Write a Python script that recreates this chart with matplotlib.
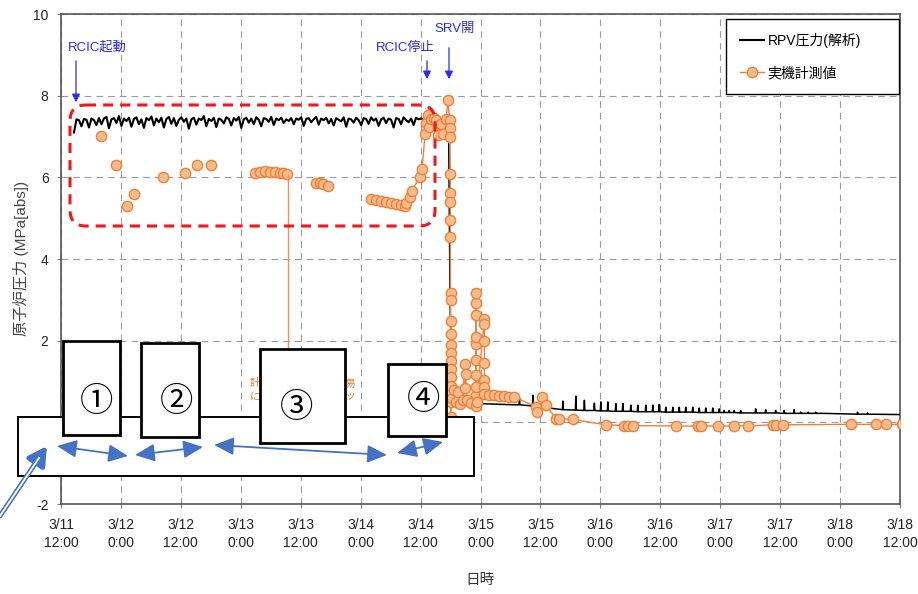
import numpy as np
import matplotlib
matplotlib.use('Agg')
import matplotlib.pyplot as plt
from matplotlib.patches import Rectangle, FancyBboxPatch, FancyArrowPatch
from matplotlib.transforms import Affine2D
from matplotlib.lines import Line2D

plt.rcParams['font.family'] = ['Liberation Sans', 'Noto Sans CJK JP', 'DejaVu Sans']
plt.rcParams['axes.unicode_minus'] = False

# ---------------- data (hours since 3/11 12:00, MPa[abs]) ----------------
tick_hours = [0, 12, 24, 36, 48, 60, 72, 84, 96, 108, 120, 132, 144, 156, 168]
tick_labels = ['3/11\n12:00', '3/12\n0:00', '3/12\n12:00', '3/13\n0:00', '3/13\n12:00',
               '3/14\n0:00', '3/14\n12:00', '3/15\n0:00', '3/15\n12:00', '3/16\n0:00',
               '3/16\n12:00', '3/17\n0:00', '3/17\n12:00', '3/18\n0:00', '3/18\n12:00']
y_ticks = [-2, 0, 2, 4, 6, 8, 10]

# analysis (RCIC period, sampled from 2.6 h to 72.1 h)
rcic_start, rcic_end = 2.6, 72.1
rcic_values = [
    7.10, 7.42, 7.40, 7.25, 7.43, 7.41, 7.22, 7.44, 7.40, 7.28,
    7.45, 7.30, 7.44, 7.48, 7.20, 7.42, 7.45, 7.33, 7.50, 7.26,
    7.44, 7.38, 7.46, 7.24, 7.43, 7.47, 7.30, 7.42, 7.21, 7.45,
    7.40, 7.49, 7.27, 7.44, 7.35, 7.46, 7.22, 7.43, 7.48, 7.31,
    7.45, 7.26, 7.41, 7.47, 7.36, 7.44, 7.19, 7.42, 7.46, 7.29,
    7.44, 7.40, 7.50, 7.25, 7.43, 7.38, 7.46, 7.23, 7.44, 7.41,
    7.32, 7.47, 7.43, 7.27, 7.45, 7.39, 7.48, 7.21, 7.42, 7.46,
    7.34, 7.44, 7.30, 7.47, 7.41, 7.25, 7.45, 7.43, 7.36, 7.48,
    7.28, 7.44, 7.40, 7.46, 7.33, 7.42, 7.38, 7.45, 7.30, 7.44,
    7.41, 7.47, 7.26, 7.43, 7.45, 7.35, 7.42, 7.48, 7.29, 7.44,
    7.40, 7.46, 7.32, 7.43, 7.27, 7.45, 7.41, 7.37, 7.47, 7.24,
    7.44, 7.42, 7.34, 7.46, 7.40, 7.28, 7.45, 7.43, 7.31, 7.47,
    7.39, 7.44, 7.26, 7.42, 7.46, 7.33, 7.44, 7.41, 7.22, 7.45,
    7.43, 7.30, 7.47, 7.40, 7.35, 7.44, 7.28, 7.46, 7.42, 7.44]

# analysis after RCIC stop
post_hours = [72.6, 74.0, 75.5, 77.6, 77.9, 78.2, 78.6, 79.2, 80.0, 81.5, 83.8, 90.4,
              91.7, 91.8, 91.9, 94.4, 94.5, 94.6, 95.4, 97.0, 97.1, 97.2,
              100.4, 100.5, 100.6, 103.0, 103.1, 103.2, 104.7, 104.8, 104.9,
              106.7, 106.8, 106.9, 108.0, 108.1, 108.2, 109.4, 109.5, 109.6, 110.4,
              111.0, 111.1, 111.2, 112.4, 112.5, 112.6, 114.0, 114.1, 114.2,
              115.4, 115.5, 115.6, 117.0, 117.1, 117.2, 118.4, 118.5, 118.6,
              119.7, 119.8, 119.9, 121.0, 121.1, 121.2, 122.4, 122.5, 122.6,
              123.7, 123.8, 123.9, 125.0, 125.1, 125.2, 126.4, 126.5, 126.6,
              127.7, 127.8, 127.9, 129.0, 129.1, 129.2, 130.4, 130.5, 130.6,
              131.7, 131.8, 131.9, 132.7, 132.8, 132.9, 133.7, 133.8, 133.9,
              134.7, 134.8, 134.9, 136.0, 136.1, 136.2, 139.0, 139.1, 139.2,
              141.0, 141.1, 141.2, 143.0, 143.1, 143.2, 144.7, 144.8, 144.9,
              146.7, 146.8, 146.9, 148.0, 148.1, 148.2, 149.5, 149.6, 149.7,
              151.0, 151.1, 151.2, 152.5, 159.4, 159.5, 159.6, 161.4, 161.5, 161.6, 168.0]
post_values = [7.42, 7.45, 7.43, 7.42, 3.00, 1.40, 0.90, 0.70, 0.58, 0.52, 0.46, 0.43,
               0.43, 0.60, 0.43, 0.40, 0.66, 0.40, 0.38, 0.36, 0.57, 0.36,
               0.31, 0.52, 0.31, 0.30, 0.64, 0.30, 0.29, 0.54, 0.29,
               0.29, 0.47, 0.29, 0.28, 0.50, 0.28, 0.28, 0.50, 0.28, 0.27,
               0.27, 0.46, 0.27, 0.27, 0.46, 0.27, 0.27, 0.42, 0.27,
               0.26, 0.42, 0.26, 0.26, 0.42, 0.26, 0.26, 0.42, 0.26,
               0.26, 0.44, 0.26, 0.25, 0.37, 0.25, 0.25, 0.37, 0.25,
               0.25, 0.37, 0.25, 0.25, 0.37, 0.25, 0.25, 0.37, 0.25,
               0.24, 0.35, 0.24, 0.24, 0.35, 0.24, 0.24, 0.35, 0.24,
               0.24, 0.33, 0.24, 0.24, 0.29, 0.24, 0.24, 0.29, 0.24,
               0.24, 0.29, 0.24, 0.23, 0.29, 0.23, 0.23, 0.33, 0.23,
               0.23, 0.31, 0.23, 0.23, 0.29, 0.23, 0.22, 0.29, 0.22,
               0.22, 0.31, 0.22, 0.22, 0.25, 0.22, 0.22, 0.25, 0.22,
               0.22, 0.25, 0.22, 0.22, 0.20, 0.25, 0.20, 0.20, 0.23, 0.20, 0.19]

# measured plant data (NaN = gap in record)
nan = np.nan
meas_hours = [8.0, nan, 11.1, nan, 13.3, nan, 14.7, nan, 20.5, nan, 24.8, nan, 27.3, nan, 30.1, nan,
              38.8, 39.8, 40.8, 41.8, 42.8, 43.8, 44.5, 45.3, nan,
              51.1, 51.8, 52.5, 53.5, nan,
              62.1, 63.1, 64.1, 65.1, 66.1, 67.1, 68.1, 68.8, 69.1, 69.8, 70.3, 71.8, 72.3,
              72.9, 73.0, 73.5, 73.7, 74.1, 74.6, 75.1, 75.5, 76.0, 76.5, 77.1, 77.5, 77.8,
              77.85, 77.9, 77.95, 77.95, 77.95, 77.95, 77.95,
              78.0, 78.0, 78.0, 78.0, 78.0, 78.0, 78.0, 78.0, 78.0, 78.0, 78.0, 78.0, 78.0,
              78.3, 78.6, 79.0, 79.4, 79.8, 80.5, 80.8, 80.9, 81.0, 81.3, 82.1,
              83.0, 83.1, 83.1, 83.1, 83.1, 83.1, 83.1, 83.1, 83.1, 83.1, 83.2,
              84.8, 84.8, 84.8, 84.8, 84.8, 84.8, 84.8,
              85.8, 86.8, 87.8, 88.8, 89.8, 90.8, 95.1, 95.4, 96.4, 97.1, 99.1, 99.8, 102.5,
              109.1, 112.8, 113.5, 114.5, 123.1, 127.5, 128.1, 131.5, 134.8, 137.5,
              142.5, 143.1, 144.5, 158.1, 163.1, 165.1, 168.5]
meas_values = [7.01, nan, 6.30, nan, 5.29, nan, 5.60, nan, 6.00, nan, 6.11, nan, 6.31, nan, 6.31, nan,
               6.10, 6.14, 6.15, 6.14, 6.13, 6.11, 6.10, 6.09, nan,
               5.87, 5.85, 5.83, 5.78, nan,
               5.46, 5.44, 5.42, 5.39, 5.37, 5.34, 5.32, 5.30, 5.36, 5.52, 5.67, 6.01, 6.20,
               7.07, 7.32, 7.52, 7.24, 7.44, 7.45, 7.40, 7.03, 7.30, 7.07, 7.44, 7.89, 7.40,
               7.20, 6.99, 6.09, 5.62, 5.40, 4.95, 4.53,
               3.17, 3.00, 2.48, 2.17, 1.89, 1.70, 1.50, 1.30, 1.10, 0.90, 0.70, 0.50, 0.13,
               0.60, 0.80, 0.50, 0.75, 0.45, 0.55, 1.44, 0.83, 1.19, 0.54, 0.47,
               0.40, 0.66, 0.87, 1.15, 1.52, 1.93, 2.09, 2.62, 2.92, 3.16, 0.50,
               2.54, 2.42, 2.00, 1.45, 1.03, 0.87, 0.70,
               0.68, 0.66, 0.65, 0.64, 0.63, 0.62, 0.38, 0.25, 0.62, 0.42, 0.09, 0.09, 0.07,
               -0.06, -0.08, -0.08, -0.08, -0.09, -0.09, -0.09, -0.09, -0.09, -0.09,
               -0.06, -0.06, -0.06, -0.05, -0.05, -0.05, -0.05]

# ---------------- figure ----------------
W, H = 918, 594
fig = plt.figure(figsize=(W / 100, H / 100), dpi=100)
ax = fig.add_axes([61 / W, 1 - 504 / H, (900 - 61) / W, (504 - 14) / H])
PX = Affine2D().scale(1 / W, -1 / H).translate(0, 1) + fig.transFigure

rcic_hours = np.linspace(rcic_start, rcic_end, len(rcic_values))

ax.plot(rcic_hours, rcic_values, color='black', lw=1.5, zorder=3, label='RPV圧力(解析)')
ax.plot(np.concatenate([rcic_hours[-1:], post_hours]),
        np.concatenate([rcic_values[-1:], post_values]),
        color='black', lw=1.1, zorder=3)
ax.plot(meas_hours, meas_values, color='#EE7F3E', lw=1.0, marker='o', ms=7.4,
        mfc='#FBBC8C', mec='#F0803A', mew=1.0, zorder=4, label='実機計測値')

ax.set_xlim(0, 168)
ax.set_ylim(-2, 10)
ax.set_xticks(tick_hours)
ax.set_xticklabels(tick_labels, linespacing=1.35)
ax.set_yticks(y_ticks)
ax.tick_params(axis='both', direction='out', length=3, color='#808080', width=0.8,
               labelsize=10, labelcolor='#222222')
ax.tick_params(axis='x', pad=7)
ax.tick_params(axis='y', pad=6)
ax.grid(True, color='#9a9a9a', lw=0.8, ls=(0, (6, 4.5)))
for s in ax.spines.values():
    s.set_color('#555555')
    s.set_linewidth(1.2)

leg = ax.legend(loc='upper left', bbox_to_anchor=(726 / W, 1 - 97 / H, 173 / W, 78 / H),
                bbox_transform=fig.transFigure, mode='expand', borderaxespad=0,
                fontsize=10, borderpad=1.0, labelspacing=1.3, handlelength=1.75,
                handletextpad=0.25, numpoints=1, fancybox=False, framealpha=1,
                edgecolor='black', alignment='center')
leg.get_frame().set_linewidth(1.0)

fig.text(480 / W, 1 - 580 / H, '日時', ha='center', va='center', fontsize=10.5, color='#333333')
fig.text(21 / W, 1 - 258 / H, '原子炉圧力 (MPa[abs])', rotation=90, ha='center', va='center',
         fontsize=11, color='#444444')

# ---- blue event annotations ----
blue = '#2B2BF0'
fig.text(68 / W, 1 - 47 / H, 'RCIC起動', color=blue, fontsize=9.5, ha='left', va='center')
fig.text(435 / W, 1 - 48 / H, 'RCIC停止', color=blue, fontsize=9.5, ha='right', va='center')
fig.text(455 / W, 1 - 29 / H, 'SRV開', color=blue, fontsize=9.5, ha='center', va='center')
for (x0, y0, y1) in [(76, 58, 105), (427, 58, 82), (449, 45, 82)]:
    fig.add_artist(FancyArrowPatch((x0, y0), (x0, y1), transform=PX,
                                   arrowstyle='-|>,head_length=0.6,head_width=0.3',
                                   mutation_scale=8, lw=0.9, color=blue))

# ---- red dashed region ----
fig.add_artist(FancyBboxPatch((70, 105), 365, 121, transform=PX,
                              boxstyle='round,pad=0,rounding_size=16',
                              fc='none', ec='#F01818', lw=2.2, ls=(0, (3.3, 2.3))))

# ---- partly hidden orange note and leader line (behind box 3) ----
fig.add_artist(Line2D([288, 288], [175, 380], transform=PX, color='#F09060', lw=1.0, zorder=0.5))
fig.text(250 / W, 1 - 390 / H, '計器\nに応', color='#F07830',
         fontsize=7.5, ha='left', va='center', linespacing=1.35, zorder=0.5)
fig.text(356 / W, 1 - 390 / H, 'し易\nャッ', color='#F07830',
         fontsize=7.5, ha='right', va='center', linespacing=1.35, zorder=0.5)

# ---- boxes ----
fig.add_artist(Rectangle((18, 417), 456, 59, transform=PX, fc='white', ec='black', lw=1.4))
for (x, y, w, h) in [(63, 341, 57, 94), (141, 343, 58, 94), (260, 349, 85, 94), (388, 364, 58, 72)]:
    fig.add_artist(Rectangle((x, y), w, h, transform=PX, fc='white', ec='black', lw=2.0))
for (x, y, t) in [(97, 401, '①'), (177, 402, '②'), (297, 408, '③'), (424, 400, '④')]:
    fig.text(x / W, 1 - y / H, t, fontsize=24, ha='center', va='center', color='black',
             family=['Noto Sans CJK JP', 'DejaVu Sans'])

# ---- blue double arrows ----
ab = '#4472C4'
for (p, q) in [((57, 446), (128, 456)), ((135, 455), (203, 447)),
               ((214, 445), (387, 455)), ((397, 453), (443, 442))]:
    fig.add_artist(FancyArrowPatch(p, q, transform=PX,
                                   arrowstyle='<|-|>,head_length=1.0,head_width=0.45',
                                   mutation_scale=12, lw=1.3, color=ab, shrinkA=0, shrinkB=0))
fig.add_artist(FancyArrowPatch((0, 516), (47, 446), transform=PX,
                               arrowstyle='-|>,head_length=0.9,head_width=0.5',
                               mutation_scale=12, lw=3.6, color=ab, shrinkA=0, shrinkB=0))
fig.add_artist(Line2D([0, 39], [516, 458], transform=PX, color='white', lw=1.3))

fig.savefig('out.png', dpi=100)
